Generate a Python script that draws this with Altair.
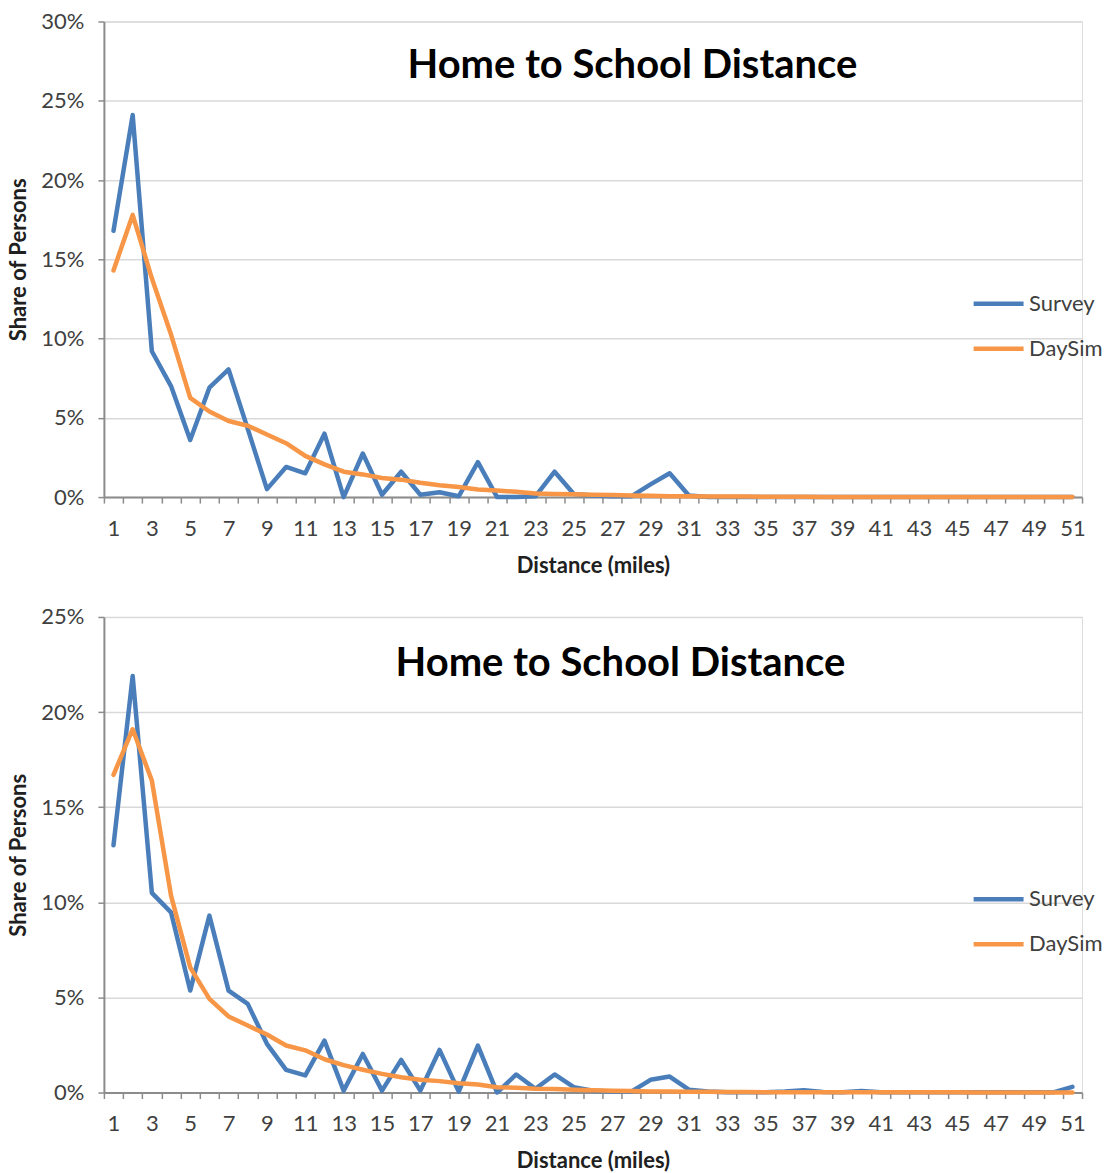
import altair as alt
import pandas as pd

# Distance categories (miles)
distance = list(range(1, 52))

# Panel 1 shares (fraction of persons)
survey_1 = [0.168, 0.241, 0.092, 0.070, 0.036, 0.069, 0.0805, 0.043, 0.005, 0.019,
            0.015, 0.040, 0.000, 0.0275, 0.0015, 0.016, 0.0015, 0.003, 0.0005, 0.022,
            0.000, 0.000, 0.0005, 0.016, 0.002, 0.001, 0.0005, 0.0005, 0.008, 0.015,
            0.001, 0.0, 0.0, 0.0, 0.0, 0.0, 0.0, 0.0, 0.0, 0.0,
            0.0, 0.0, 0.0, 0.0, 0.0, 0.0, 0.0, 0.0, 0.0, 0.0, 0.0]
daysim_1 = [0.143, 0.178, 0.138, 0.1025, 0.0626, 0.054, 0.048, 0.045, 0.0395, 0.034,
            0.026, 0.0206, 0.016, 0.0143, 0.012, 0.011, 0.009, 0.0074, 0.0063, 0.0048,
            0.0042, 0.0033, 0.0022, 0.002, 0.0018, 0.0015, 0.0013, 0.001, 0.0008, 0.0006,
            0.0005, 0.0004, 0.0003, 0.0003, 0.0002, 0.0002, 0.0002, 0.0001, 0.0001, 0.0001,
            0.0001, 0.0001, 0.0001, 0.0, 0.0, 0.0, 0.0, 0.0, 0.0, 0.0, 0.0]

# Panel 2 shares (fraction of persons)
survey_2 = [0.130, 0.219, 0.105, 0.0947, 0.0536, 0.093, 0.0536, 0.0466, 0.0256, 0.0119,
            0.009, 0.0273, 0.001, 0.0203, 0.001, 0.0172, 0.001, 0.0224, 0.0005, 0.0247,
            0.000, 0.0095, 0.002, 0.0095, 0.0028, 0.001, 0.0005, 0.0005, 0.0067, 0.0084,
            0.0015, 0.0005, 0.0002, 0.0002, 0.0002, 0.0005, 0.0012, 0.0003, 0.0002, 0.0008,
            0.0002, 0.0001, 0.0001, 0.0001, 0.0001, 0.0001, 0.0001, 0.0001, 0.0001, 0.0001, 0.003]
daysim_2 = [0.167, 0.191, 0.164, 0.1035, 0.0658, 0.0492, 0.040, 0.0352, 0.0305, 0.0247,
            0.0222, 0.0175, 0.0144, 0.012, 0.0098, 0.008, 0.0067, 0.006, 0.0049, 0.0042,
            0.0028, 0.0025, 0.002, 0.0018, 0.0015, 0.0012, 0.001, 0.0008, 0.0006, 0.0005,
            0.0004, 0.0004, 0.0003, 0.0003, 0.0002, 0.0002, 0.0002, 0.0002, 0.0001, 0.0001,
            0.0001, 0.0001, 0.0001, 0.0001, 0.0001, 0.0, 0.0, 0.0, 0.0, 0.0, 0.0]

series_names = ["Survey", "DaySim"]
series_colors = ["#4A7EBB", "#F79646"]

chart_title = "Home to School Distance"
x_title = "Distance (miles)"
y_title = "Share of Persons"

FONT = "Lato"
TEXT = "#404040"
AXIS_GRAY = "#8C8C8C"
GRID_GRAY = "#D9D9D9"

PLOT_W = 979
PLOT_H = 476


def long_table(survey, daysim):
    rows = []
    for name, vals in zip(series_names, [survey, daysim]):
        for d, v in zip(distance, vals):
            rows.append({"distance": d, "share": v, "series": name})
    return pd.DataFrame(rows)


def panel(survey, daysim, y_max, title_x, title_y):
    df = long_table(survey, daysim)
    boundaries = [i + 0.5 for i in range(0, 52)]
    x_axis = alt.Axis(
        values=boundaries,
        labelExpr="(datum.value - 0.5) % 2 == 0 ? format(datum.value + 0.5, 'd') : ''",
        labelOffset=PLOT_W / 51 / 2,
        labelFlush=False,
        labelOverlap=False,
        grid=False,
        tickSize=6,
        tickColor=AXIS_GRAY,
        tickWidth=1.5,
        domainColor=AXIS_GRAY,
        domainWidth=2,
        labelFont=FONT,
        labelFontSize=22,
        labelColor=TEXT,
        labelPadding=15,
        title=x_title,
        titleFont=FONT,
        titleFontSize=22,
        titleFontWeight="bold",
        titleColor="#202020",
        titlePadding=16,
    )
    y_vals = [round(i * 0.05, 2) for i in range(0, int(round(y_max / 0.05)) + 1)]
    y_axis = alt.Axis(
        values=y_vals,
        format=".0%",
        grid=True,
        gridColor=GRID_GRAY,
        gridWidth=1.5,
        tickSize=6,
        tickColor=AXIS_GRAY,
        tickWidth=1.5,
        domainColor=AXIS_GRAY,
        domainWidth=2,
        labelFont=FONT,
        labelFontSize=22,
        labelColor=TEXT,
        labelPadding=14,
        title=y_title,
        titleFont=FONT,
        titleFontSize=22,
        titleFontWeight="bold",
        titleColor="#202020",
        titlePadding=10,
    )
    lines = alt.Chart(df).mark_line(
        strokeWidth=4.5, strokeJoin="round", strokeCap="round"
    ).encode(
        x=alt.X("distance:Q", scale=alt.Scale(domain=[0.5, 51.5], nice=False, zero=False), axis=x_axis),
        y=alt.Y("share:Q", scale=alt.Scale(domain=[0, y_max], nice=False), axis=y_axis),
        color=alt.Color(
            "series:N",
            scale=alt.Scale(domain=series_names, range=series_colors),
            sort=series_names,
            legend=alt.Legend(
                title=None,
                orient="none",
                legendX=868,
                legendY=255,
                symbolType="stroke",
                symbolSize=2500,
                symbolStrokeWidth=4.5,
                labelFont=FONT,
                labelFontSize=22,
                labelColor=TEXT,
                labelOffset=3,
                rowPadding=6,
            ),
        ),
        order=alt.Order("distance:Q"),
    )
    heading = alt.Chart(pd.DataFrame({"t": [chart_title]})).mark_text(
        font=FONT, fontSize=40, fontWeight="bold", color="black", baseline="middle", align="center"
    ).encode(text="t:N", x=alt.value(title_x), y=alt.value(title_y))
    return alt.layer(lines, heading).properties(width=PLOT_W, height=PLOT_H)


top = panel(survey_1, daysim_1, 0.30, 529, 45)
bottom = panel(survey_2, daysim_2, 0.25, 517, 47)

chart = alt.vconcat(top, bottom, spacing=120, bounds="flush").resolve_scale(
    color="independent"
).properties(
    padding={"left": 7, "top": 9, "right": 0, "bottom": 0},
).configure_view(stroke=None).configure(background="white")

chart.save("out.html", embed_options={"renderer": "svg", "actions": False})
